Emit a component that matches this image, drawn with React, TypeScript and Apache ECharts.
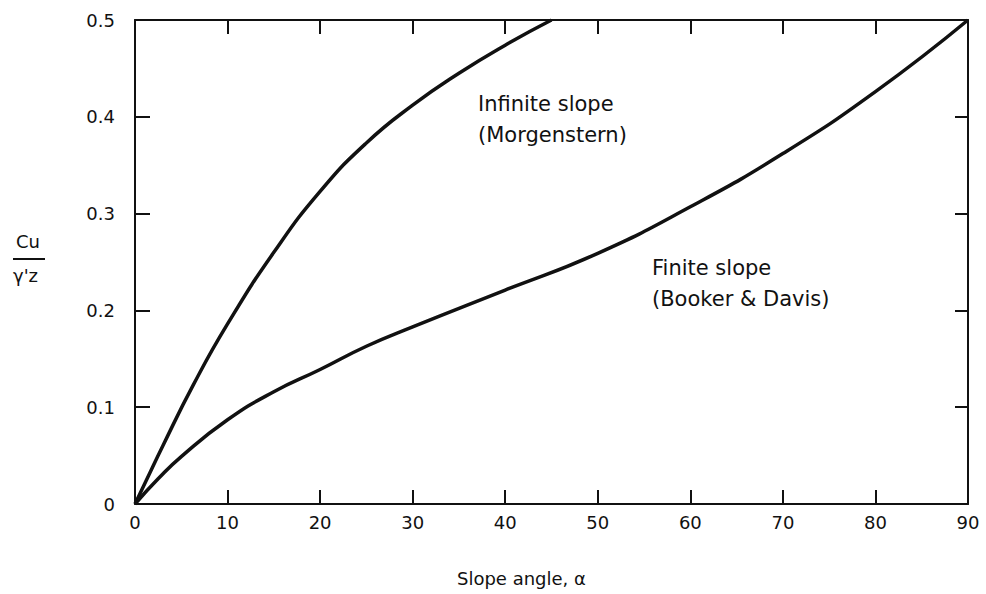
import React, { useEffect, useRef } from "react";
import * as echarts from "echarts";

// Slope angle (degrees) and normalised strength Cu / γ'z
const infiniteAngle = [0, 1.2, 3, 6.3, 10, 15, 20, 25, 30, 35, 40, 45];
const infiniteRatio = [0, 0.024, 0.06, 0.123, 0.186, 0.26, 0.323, 0.373, 0.412, 0.445, 0.474, 0.5];

const finiteAngle = [0, 2.5, 5, 10, 15, 20, 25, 30, 40, 50, 60, 70, 80, 90];
const finiteRatio = [0, 0.026, 0.049, 0.087, 0.116, 0.139, 0.163, 0.183, 0.221, 0.259, 0.307, 0.362, 0.426, 0.5];

const xTicks = [0, 10, 20, 30, 40, 50, 60, 70, 80, 90];
const yTicks = [0, 0.1, 0.2, 0.3, 0.4, 0.5];

const FONT = "DejaVu Sans";
const INK = "#111";

const pairs = (xs: number[], ys: number[]) => xs.map((x, i) => [x, ys[i]]);

export default function App() {
  const ref = useRef<HTMLDivElement>(null);

  useEffect(() => {
    if (!ref.current) return;
    const chart = echarts.init(ref.current, null, { renderer: "svg" });

    const tickStyle = { lineStyle: { color: INK, width: 2 } };
    const axisLine = { show: true, onZero: false, lineStyle: { color: INK, width: 2 } };

    chart.setOption({
      animation: false,
      backgroundColor: "#fff",
      grid: { left: 135, right: 18, top: 20, bottom: 90 },
      xAxis: [
        {
          type: "value",
          min: xTicks[0],
          max: xTicks[xTicks.length - 1],
          interval: 10,
          position: "bottom",
          axisLine,
          axisTick: { show: true, inside: true, length: 14, ...tickStyle },
          axisLabel: {
            color: INK,
            fontFamily: FONT,
            fontSize: 18,
            margin: 9,
            formatter: (v: number) => (xTicks.includes(v) ? String(v) : ""),
          },
          splitLine: { show: false },
        },
        {
          type: "value",
          min: xTicks[0],
          max: xTicks[xTicks.length - 1],
          interval: 10,
          position: "top",
          axisLine,
          axisTick: { show: true, inside: true, length: 14, ...tickStyle },
          axisLabel: { show: false },
          splitLine: { show: false },
        },
      ],
      yAxis: [
        {
          type: "value",
          min: yTicks[0],
          max: yTicks[yTicks.length - 1],
          interval: 0.1,
          position: "left",
          axisLine,
          axisTick: { show: true, inside: true, length: 15, ...tickStyle },
          axisLabel: {
            color: INK,
            fontFamily: FONT,
            fontSize: 18,
            margin: 20,
            formatter: (v: number) => (v === 0 ? "0" : v.toFixed(1)),
          },
          splitLine: { show: false },
        },
        {
          type: "value",
          min: yTicks[0],
          max: yTicks[yTicks.length - 1],
          interval: 0.1,
          position: "right",
          axisLine,
          axisTick: { show: true, inside: true, length: 13, ...tickStyle },
          axisLabel: { show: false },
          splitLine: { show: false },
        },
      ],
      series: [
        {
          name: "Infinite slope (Morgenstern)",
          type: "line",
          data: pairs(infiniteAngle, infiniteRatio),
          smooth: 0.5,
          symbol: "none",
          lineStyle: { color: INK, width: 3.5 },
          xAxisIndex: 0,
          yAxisIndex: 0,
        },
        {
          name: "Finite slope (Booker & Davis)",
          type: "line",
          data: pairs(finiteAngle, finiteRatio),
          smooth: 0.5,
          symbol: "none",
          lineStyle: { color: INK, width: 3.5 },
          xAxisIndex: 0,
          yAxisIndex: 0,
        },
      ],
      graphic: [
        {
          type: "text",
          left: 478,
          top: 88,
          style: {
            text: "Infinite slope\n(Morgenstern)",
            fill: INK,
            font: `21px ${FONT}`,
            lineHeight: 31,
          },
        },
        {
          type: "text",
          left: 652,
          top: 252,
          style: {
            text: "Finite slope\n(Booker & Davis)",
            fill: INK,
            font: `21px ${FONT}`,
            lineHeight: 31,
          },
        },
        {
          type: "text",
          left: 16,
          top: 232,
          style: { text: "Cu", fill: INK, font: `18px ${FONT}` },
        },
        {
          type: "line",
          shape: { x1: 13, y1: 259, x2: 45, y2: 259 },
          style: { stroke: INK, lineWidth: 2 },
        },
        {
          type: "text",
          left: 13,
          top: 266,
          style: { text: "γ'z", fill: INK, font: `18px ${FONT}` },
        },
        {
          type: "text",
          left: 457,
          top: 569,
          style: { text: "Slope angle, α", fill: INK, font: `18px ${FONT}` },
        },
      ],
    });

    return () => chart.dispose();
  }, []);

  return <div ref={ref} style={{ width: 986, height: 594, position: "absolute", left: 0, top: 0 }} />;
}
